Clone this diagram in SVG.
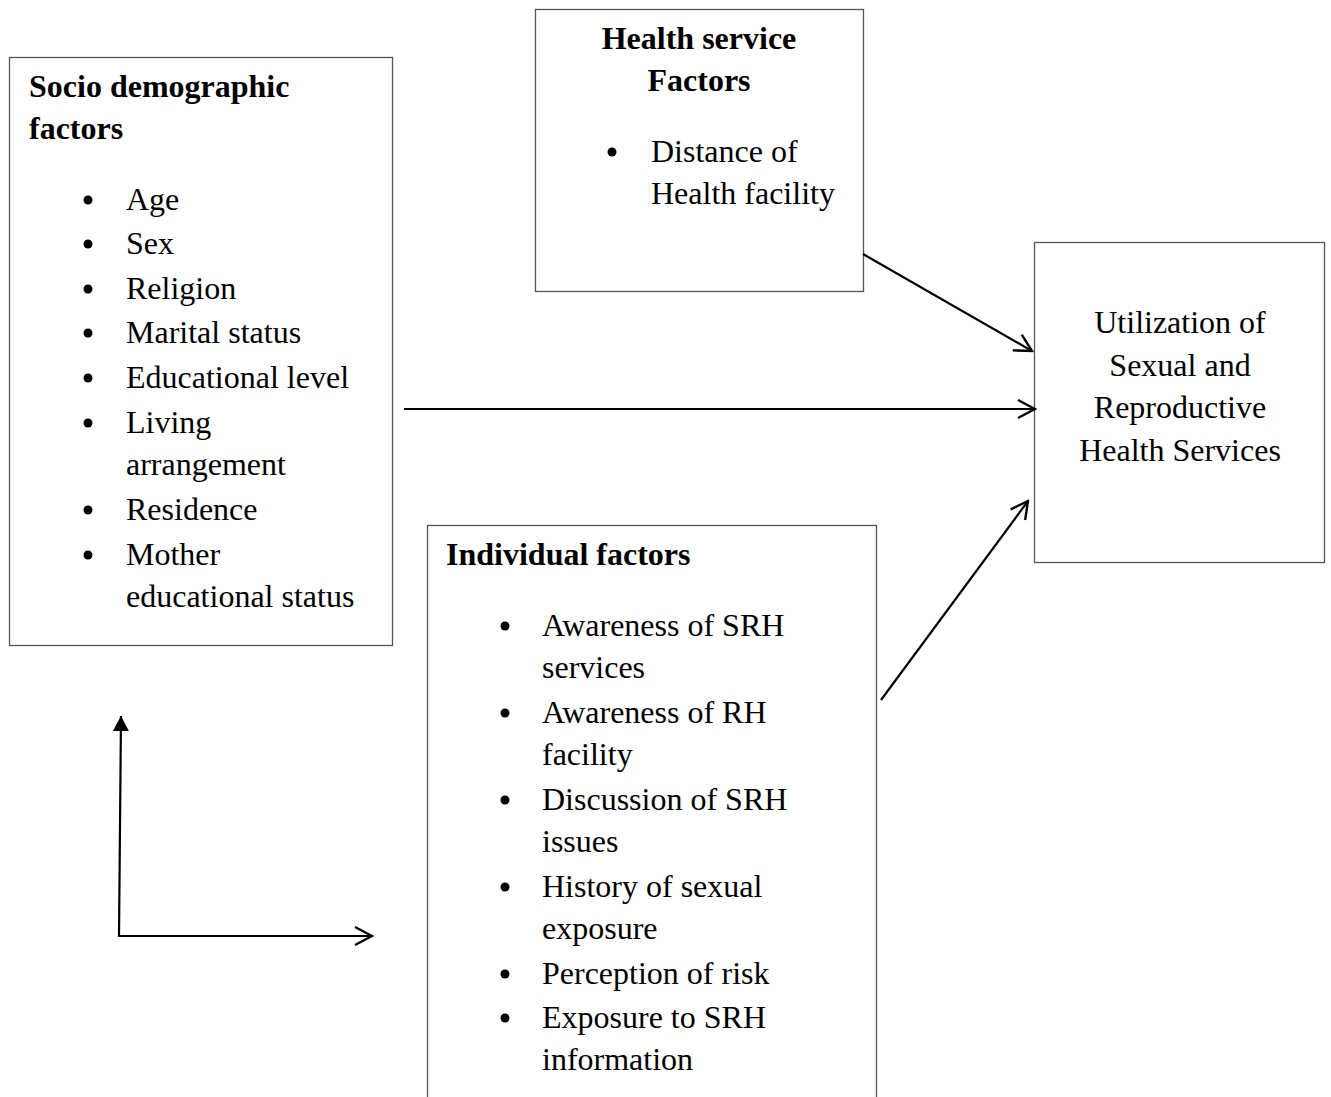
<svg xmlns="http://www.w3.org/2000/svg" width="1331" height="1097" viewBox="0 0 1331 1097">
<style>
.box{fill:#fff;stroke:#555;stroke-width:1.3}
text{font-family:"Liberation Serif","Times New Roman",serif;font-size:32px;fill:#000}
.b{font-weight:bold}
.c{text-anchor:middle}
.conn line{stroke:#000;stroke-width:2.2;fill:none}
</style>
<defs>
<marker id="open" markerUnits="userSpaceOnUse" viewBox="-22 -12 24 24" markerWidth="24" markerHeight="24" refX="0" refY="0" orient="auto">
<path d="M-17,-9 L0,0 L-17,9" fill="none" stroke="#000" stroke-width="2.4" stroke-linejoin="miter"/>
</marker>
<marker id="solid" markerUnits="userSpaceOnUse" viewBox="-18 -10 20 20" markerWidth="20" markerHeight="20" refX="0" refY="0" orient="auto">
<path d="M-15,-8 L0,0 L-15,8 z" fill="#000"/>
</marker>
</defs>
<rect width="1331" height="1097" fill="#fff"/>
<g id="socio">
<rect class="box" x="9.5" y="57.5" width="383" height="588"/>
<text class="b" x="29" y="97">Socio demographic</text>
<text class="b" x="29" y="139">factors</text>
<g>
<circle cx="88" cy="200" r="4.5"/><text x="126" y="210">Age</text>
<circle cx="88" cy="244" r="4.5"/><text x="126" y="254">Sex</text>
<circle cx="88" cy="289" r="4.5"/><text x="126" y="299">Religion</text>
<circle cx="88" cy="333" r="4.5"/><text x="126" y="343">Marital status</text>
<circle cx="88" cy="378" r="4.5"/><text x="126" y="388">Educational level</text>
<circle cx="88" cy="423" r="4.5"/><text x="126" y="433">Living</text><text x="126" y="475">arrangement</text>
<circle cx="88" cy="510" r="4.5"/><text x="126" y="520">Residence</text>
<circle cx="88" cy="555" r="4.5"/><text x="126" y="565">Mother</text><text x="126" y="607">educational status</text>
</g>
</g>
<g id="health">
<rect class="box" x="535.5" y="9.5" width="328" height="282"/>
<text class="b c" x="699" y="49">Health service</text>
<text class="b c" x="699" y="91">Factors</text>
<circle cx="612" cy="152" r="4.5"/><text x="651" y="162">Distance of</text>
<text x="651" y="204">Health facility</text>
</g>
<g id="utilization">
<rect class="box" x="1034.5" y="242.5" width="290" height="320"/>
<text class="c" x="1180" y="333">Utilization of</text>
<text class="c" x="1180" y="376">Sexual and</text>
<text class="c" x="1180" y="418">Reproductive</text>
<text class="c" x="1180" y="461">Health Services</text>
</g>
<g id="individual">
<rect class="box" x="427.5" y="525.5" width="449" height="600"/>
<text class="b" x="446" y="565">Individual factors</text>
<circle cx="505" cy="626" r="4.5"/><text x="542" y="636">Awareness of SRH</text><text x="542" y="678">services</text>
<circle cx="505" cy="713" r="4.5"/><text x="542" y="723">Awareness of RH</text><text x="542" y="765">facility</text>
<circle cx="505" cy="800" r="4.5"/><text x="542" y="810">Discussion of SRH</text><text x="542" y="852">issues</text>
<circle cx="505" cy="887" r="4.5"/><text x="542" y="897">History of sexual</text><text x="542" y="939">exposure</text>
<circle cx="505" cy="974" r="4.5"/><text x="542" y="984">Perception of risk</text>
<circle cx="505" cy="1018" r="4.5"/><text x="542" y="1028">Exposure to SRH</text><text x="542" y="1070">information</text>
</g>
<g class="conn" id="connectors">
<line x1="863" y1="254" x2="1032" y2="351" marker-end="url(#open)"/>
<line x1="404" y1="409" x2="1035" y2="409" marker-end="url(#open)"/>
<line x1="881" y1="700" x2="1028" y2="501" marker-end="url(#open)"/>
<line x1="119" y1="937" x2="121" y2="716" marker-end="url(#solid)"/>
<line x1="118" y1="936" x2="372" y2="936" marker-end="url(#open)"/>
</g>
</svg>
